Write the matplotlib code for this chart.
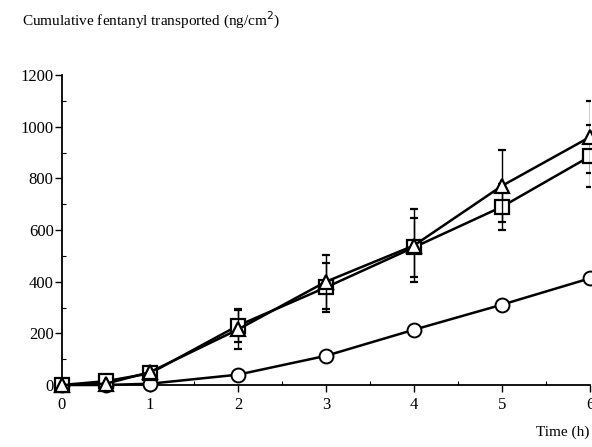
import matplotlib.pyplot as plt
import numpy as np

plt.rcParams['font.family'] = ['Liberation Serif', 'DejaVu Serif']

time = [0, 0.5, 1, 2, 3, 4, 5, 6]

tri = [0, 5, 50, 215, 400, 540, 771, 960]
tri_err = [0, 0, 0, 75, 105, 142, 140, 140]

sq = [0, 15, 45, 230, 378, 533, 690, 885]
sq_err = [0, 0, 0, 65, 95, 115, 90, 120]

circ = [0, 0, 5, 40, 113, 214, 311, 413]

fig = plt.figure(figsize=(5.92, 4.47), dpi=100)
ax = fig.add_axes([0.1047, 0.1387, 0.8919, 0.6935])

ax.plot(time, circ, '-o', color='black', lw=1.8, ms=10, mfc='white', mec='black', mew=1.4,
        zorder=3, clip_on=False)
for y, e, m, z in [(sq, sq_err, 's', 4), (tri, tri_err, '^', 5)]:
    art = ax.errorbar(time, y, yerr=e, fmt='-' + m, color='black', lw=1.8, ms=10, mfc='white',
                      mec='black', mew=1.6, ecolor='black', elinewidth=1, capsize=3, zorder=z)
    art[0].set_clip_on(False)

ax.set_xlim(0, 6)
ax.set_ylim(0, 1200)
ax.set_xticks(range(7))
ax.set_yticks(range(0, 1201, 200))
ax.set_xticks(np.arange(0.5, 6, 1), minor=True)
ax.set_yticks(range(100, 1200, 200), minor=True)
ax.tick_params(axis='both', which='major', direction='out', length=5, width=1, labelsize=12)
ax.tick_params(axis='both', which='minor', direction='in', length=3, width=0.8)
ax.tick_params(axis='y', pad=1)
for s in ['top', 'right']:
    ax.spines[s].set_visible(False)
for s in ['left', 'bottom']:
    ax.spines[s].set_linewidth(1.3)

fig.text(0.037, 0.955, 'Cumulative fentanyl transported (ng/cm$^2$)', fontsize=11, va='center', ha='left')
fig.text(0.995, 0.018, 'Time (h)', fontsize=11, va='bottom', ha='right')

fig.savefig('out.png', dpi=100)
